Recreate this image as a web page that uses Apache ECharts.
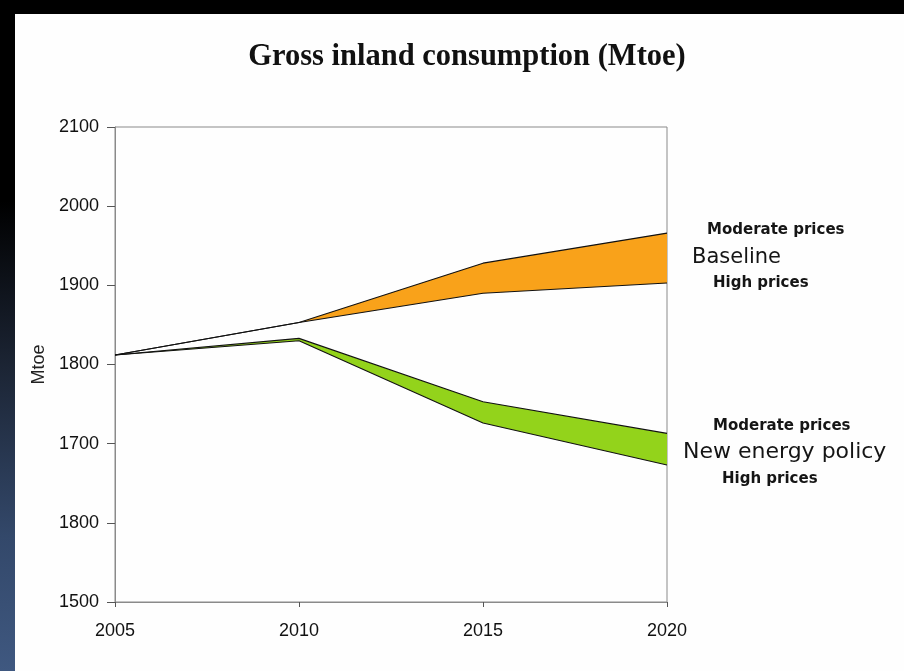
<!DOCTYPE html>
<html>
<head>
<meta charset="utf-8">
<script src="https://cdn.jsdelivr.net/npm/echarts@6/dist/echarts.min.js"></script>
<style>
  html, body { margin: 0; padding: 0; width: 904px; height: 671px; overflow: hidden; background: #000; }
  #side { position: absolute; left: 0; top: 0; width: 15px; height: 671px;
          background: linear-gradient(to bottom, #000 0%, #000 30%, #1c2535 55%, #33486a 80%, #3f5880 100%); }
  #page { position: absolute; left: 15px; top: 14px; width: 889px; height: 657px; background: #fefefe; }
  #chart { position: absolute; left: 0; top: 0; width: 904px; height: 671px; }
</style>
</head>
<body>
<div id="side"></div>
<div id="page"></div>
<div id="chart"></div>
<script>
// Gross inland consumption scenarios, Mtoe
const years = ['2005', '2010', '2015', '2020'];
const baselineModerate = [1812, 1853, 1928, 1966];
const baselineHigh     = [1812, 1853, 1890, 1903];
const nepModerate      = [1812, 1833, 1753, 1713];
const nepHigh          = [1812, 1830, 1726, 1673];
const yTickLabels = ['1500', '1800', '1700', '1800', '1900', '2000', '2100'];

// Band thickness stacked on top of the high-price path
const gaps = (top, bottom) => top.map((v, i) => v - bottom[i]);

const sans = "'Liberation Sans', Arial, sans-serif";
const lineStyle = { color: '#111', width: 1.1 };

const chart = echarts.init(document.getElementById('chart'), null, { renderer: 'canvas' });

chart.setOption({
  backgroundColor: 'transparent',
  animation: false,
  title: {
    text: 'Gross inland consumption (Mtoe)',
    left: 462, top: 37, textAlign: 'center',
    textStyle: { fontFamily: "'Liberation Serif', 'Times New Roman', serif", fontWeight: 'bold', fontSize: 30.5, color: '#111' }
  },
  grid: {
    left: 115, right: 237, top: 127, bottom: 69,
    show: true, borderColor: '#8a8a8a', borderWidth: 1, backgroundColor: 'transparent'
  },
  xAxis: {
    type: 'category', data: years, boundaryGap: false,
    axisLine: { lineStyle: { color: '#8a8a8a', width: 1 } },
    axisTick: { show: true, length: 5, alignWithLabel: true, lineStyle: { color: '#555' } },
    splitLine: { show: false },
    axisLabel: { margin: 20, fontFamily: sans, fontSize: 18, color: '#111' }
  },
  yAxis: {
    type: 'value', min: 1500, max: 2100, interval: 100,
    name: 'Mtoe', nameLocation: 'middle', nameGap: 65, nameRotate: 90,
    nameTextStyle: { fontFamily: sans, fontSize: 18, color: '#222' },
    axisLine: { show: true, lineStyle: { color: '#8a8a8a', width: 1 } },
    axisTick: { show: true, length: 8, lineStyle: { color: '#555' } },
    splitLine: { show: false },
    axisLabel: {
      margin: 16, fontFamily: sans, fontSize: 18, color: '#111',
      formatter: (v) => yTickLabels[Math.round((v - 1500) / 100)]
    }
  },
  series: [
    { name: 'Baseline high prices', type: 'line', stack: 'baseline', data: baselineHigh,
      symbol: 'none', lineStyle: lineStyle, z: 3 },
    { name: 'Baseline moderate prices', type: 'line', stack: 'baseline', data: gaps(baselineModerate, baselineHigh),
      symbol: 'none', lineStyle: lineStyle, areaStyle: { color: '#f9a21a', opacity: 1 }, z: 2 },
    { name: 'New energy policy high prices', type: 'line', stack: 'nep', data: nepHigh,
      symbol: 'none', lineStyle: lineStyle, z: 3 },
    { name: 'New energy policy moderate prices', type: 'line', stack: 'nep', data: gaps(nepModerate, nepHigh),
      symbol: 'none', lineStyle: lineStyle, areaStyle: { color: '#93d31b', opacity: 1 }, z: 2 }
  ]
});

// Scenario annotations beside the 2020 end of each band
const last = years.length - 1;
const at = (v) => chart.convertToPixel({ gridIndex: 0 }, [last, v]);
const priceFont = { fontFamily: "'DejaVu Sans', sans-serif", fontWeight: 'bold', fontSize: 15, fill: '#151515' };
const nameFont = { fontFamily: "'DejaVu Sans', sans-serif", fontSize: 21, fill: '#151515' };
const nepFont = Object.assign({}, nameFont, { fontSize: 22 });
const bM = baselineModerate[last], bH = baselineHigh[last];
const nM = nepModerate[last], nH = nepHigh[last];
const labels = [
  ['Moderate prices', bM, 40, -3, priceFont],
  ['Baseline', (bM + bH) / 2, 25, 0, nameFont],
  ['High prices', bH, 46, 0, priceFont],
  ['Moderate prices', nM, 46, -7, priceFont],
  ['New energy policy', (nM + nH) / 2, 16, 3, nepFont],
  ['High prices', nH, 55, 14, priceFont]
];
chart.setOption({
  graphic: labels.map(([t, v, dx, dy, f]) => {
    const p = at(v);
    return { type: 'text', x: p[0] + dx, y: p[1] + dy,
             style: Object.assign({ text: t, verticalAlign: 'middle', align: 'left' }, f) };
  })
});
</script>
</body>
</html>
